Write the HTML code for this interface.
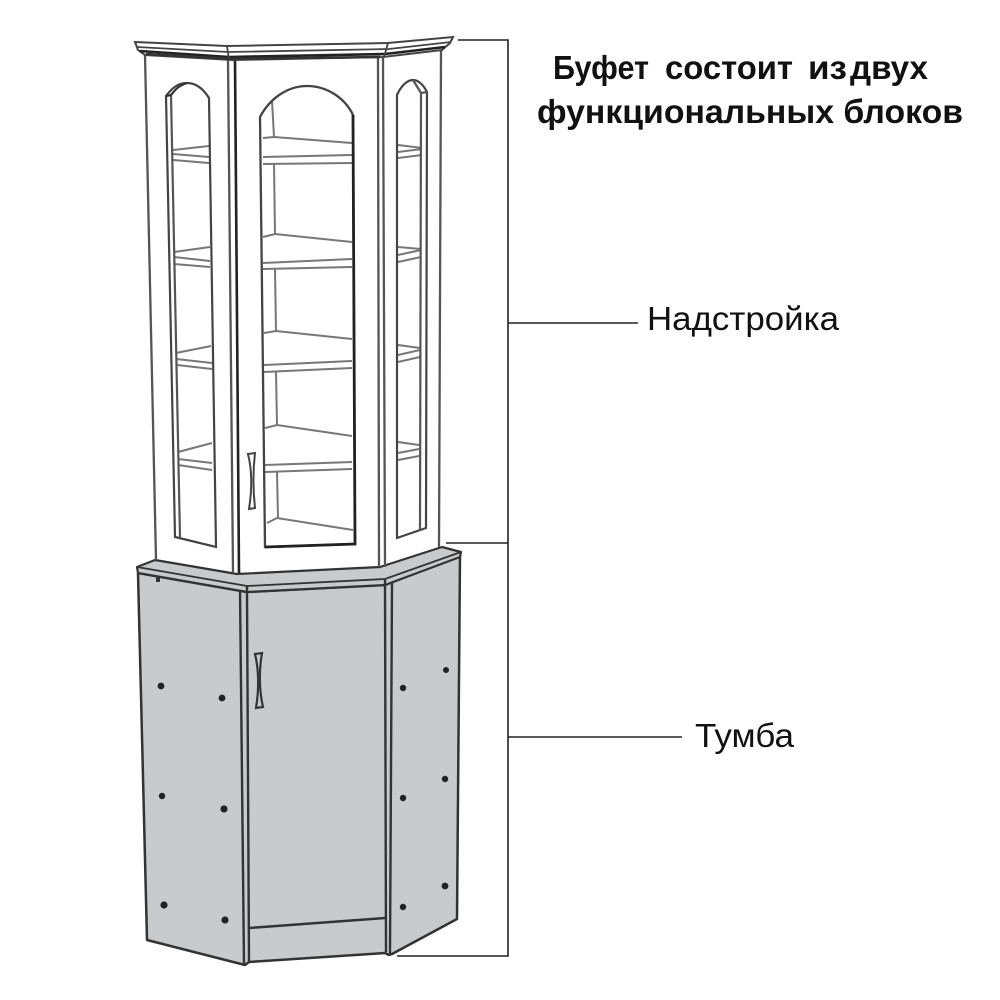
<!DOCTYPE html>
<html><head><meta charset="utf-8"><style>
html,body{margin:0;padding:0;background:#fff}
svg{display:block}
text{font-family:"Liberation Sans","Noto Sans CJK SC",sans-serif;fill:#111}
.b{font-weight:bold;font-size:33px}
.r{font-size:33px}
.d{filter:blur(0.35px)}
</style></head><body>
<svg width="1000" height="1000" viewBox="0 0 1000 1000" xmlns="http://www.w3.org/2000/svg">
<rect width="1000" height="1000" fill="#fff"/>
<g class="d">
<!-- lower cabinet -->
<g stroke-linejoin="round">
<polygon points="138,573 247,592 385,585 460,556 457,919 392,954 389,955 385,953 249,962 245,965 147,940" fill="#c9cacb" stroke="#333" stroke-width="2.5"/>
<polygon points="137,567 155,560 237,574 380,567 442,547 461,552 460,557 385,585 247,592 138,573" fill="#c9cacb" stroke="#333" stroke-width="2.2"/>
</g>
<g fill="none" stroke="#333" stroke-width="2.4">
<path d="M137,567 L247,586 L385,579 L461,552" stroke-width="1.8"/>
<path d="M240,590 L244,965"/>
<path d="M247,592 L249,962"/>
<path d="M385,585 L386,952"/>
<path d="M392,583 L390,954"/>
<path d="M249,928 L385,918"/>
<path d="M247,586 L247,592 M385,579 L385,585"/>
</g>
<rect x="156" y="576" width="4" height="6" fill="#333"/>
<g fill="#222">
<circle cx="161" cy="686" r="3.4"/><circle cx="222" cy="698" r="3.4"/>
<circle cx="403" cy="688" r="3.2"/><circle cx="446" cy="670" r="3"/>
<circle cx="162" cy="796" r="3.2"/><circle cx="224" cy="809" r="3.6"/>
<circle cx="164" cy="905" r="3.6"/><circle cx="225" cy="920" r="3.6"/>
<circle cx="403" cy="798" r="3.2"/><circle cx="445" cy="779" r="3.2"/>
<circle cx="403" cy="907" r="3.2"/><circle cx="445" cy="886" r="3.4"/>
</g>
<path d="M255,654 L262,653 C259,670 259,690 263,707 L256,708 C259,690 259,670 255,654 Z" fill="#c9cacb" stroke="#333" stroke-width="2.2"/>

<!-- upper cabinet outlines -->
<g fill="none" stroke="#555" stroke-width="2.3">
<path d="M145,55 L156,560"/>
<path d="M441,50 L439,547"/>
<path d="M228,60 L233,572"/>
<path d="M378,58 L379,567"/>
<path d="M383,58 L385,567"/>
</g>
<path d="M235,60 L239,573" fill="none" stroke="#222" stroke-width="2.6"/>

<!-- shelves -->
<g fill="none" stroke="#777" stroke-width="2">
<path d="M272,100 L274,137 M274,164 L275,234 M275,269 L276,331 M276,372 L277,425 M277,472 L278,518"/>
<path d="M263,138 L274,137 L352,143 M263,157 L352,155 M263,164 L352,163"/>
<path d="M263,237 L275,234 L352,242 M263,263 L352,259 M263,269 L352,267"/>
<path d="M264,333 L276,331 L352,339 M264,365 L352,361 M264,372 L352,368"/>
<path d="M265,428 L277,425 L352,436 M265,465 L352,462 M265,472 L352,469"/>
<path d="M267,523 L277,518 L353,530"/>
<path d="M173,150 L209,146 M173,154 L209,157 M173,160 L209,163"/>
<path d="M174,252 L210,247 M174,257 L210,261 M174,264 L210,267"/>
<path d="M176,353 L211,346 M176,359 L212,363 M177,365 L212,369"/>
<path d="M178,452 L212,443 M178,459 L212,463 M178,465 L212,470"/>
<path d="M398,145 L422,148 M398,152 L422,149 M398,158 L422,155"/>
<path d="M398,247 L421,249 M398,255 L421,250 M398,262 L421,257"/>
<path d="M398,345 L420,348 M398,355 L420,350 M398,362 L420,357"/>
<path d="M398,442 L419,445 M398,453 L419,449 M398,460 L419,456"/>
</g>

<!-- windows -->
<g fill="none" stroke="#444" stroke-width="2.2">
<path d="M166,96 C172,88 178,83 187,83 C197,83 204,90 209,98 L216,547 L175,537 Z"/>
<path d="M171,95 L180,538" stroke="#555"/>
<path d="M166,96 L171,95 C175,90 178,86 187,83" stroke="#333"/>
<path d="M397,95 C401,86 407,80 413,80 C419,80 424,86 427,92 L426,528 L397,538 Z"/>
<path d="M421,93 L420,530" stroke="#555"/>
<path d="M413,80 L421,93 L427,92" stroke="#555"/>
</g>
<path d="M260,117 C270,98 288,86 307,86 C327,86 345,98 353,115 L355,544 L265,547 Z" fill="none" stroke="#444" stroke-width="2.3"/>
<path d="M353,115 L355,544 L265,547" fill="none" stroke="#222" stroke-width="2.8"/>

<!-- upper handle -->
<path d="M248,454 L255,453 C253,470 253,490 255,508 L249,509 C252,490 252,470 248,454 Z" fill="#fff" stroke="#444" stroke-width="2"/>

<!-- cornice -->
<polygon points="135,42 227,46 388,43 453,37 450,43 442,50 383,57 233,60 145,55 138,50" fill="#fff" stroke="#444" stroke-width="2"/>
<g fill="none" stroke="#444" stroke-width="1.8">
<path d="M137,47 L228,52 L389,49 L451,42"/>
<path d="M140,51 L229,57 L385,54 L445,47" stroke="#222" stroke-width="2.6"/>
<path d="M227,46 L229,60 M388,43 L384,57"/>
</g>
<path d="M146,54 L232,59 L380,57" fill="none" stroke="#333" stroke-width="2.6"/>
</g>

<!-- bracket -->
<g fill="none" stroke="#222" stroke-width="1.6">
<path d="M458,40 L508,40 L508,956 L397,956"/>
<path d="M446,543 L508,543"/>
<path d="M508,323 L638,323"/>
<path d="M508,737 L682,737"/>
</g>

<!-- labels -->
<text class="b" x="553" y="79" textLength="96" lengthAdjust="spacingAndGlyphs">Буфет</text>
<text class="b" x="665" y="79" textLength="128" lengthAdjust="spacingAndGlyphs">состоит</text>
<text class="b" x="808" y="79" textLength="39" lengthAdjust="spacingAndGlyphs">из</text>
<text class="b" x="850" y="79" textLength="78" lengthAdjust="spacingAndGlyphs">двух</text>
<text class="b" x="537" y="123" textLength="426" lengthAdjust="spacingAndGlyphs">функциональных блоков</text>
<text class="r" x="647" y="330" textLength="192" lengthAdjust="spacingAndGlyphs">Надстройка</text>
<text class="r" x="695" y="747" textLength="99" lengthAdjust="spacingAndGlyphs">Тумба</text>
</svg>
</body></html>
